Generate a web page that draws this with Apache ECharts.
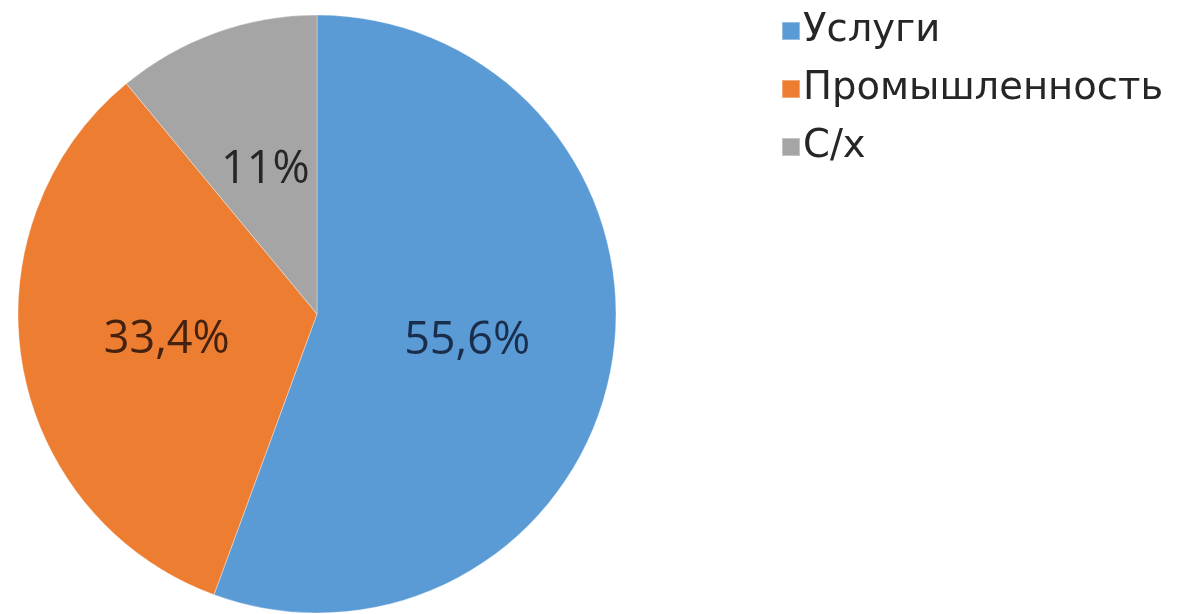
<!DOCTYPE html>
<html>
<head>
<meta charset="utf-8">
<script src="https://cdn.jsdelivr.net/npm/echarts@6/dist/echarts.min.js"></script>
<style>
  html, body { margin: 0; padding: 0; background: #fff; }
  #chart { width: 1178px; height: 614px; }
</style>
</head>
<body>
<div id="chart"></div>
<script>
  // доли секторов экономики, %
  const categories = ['Услуги', 'Промышленность', 'С/х']
  const values = [55.6, 33.4, 11]
  const colors = ['#5b9bd5', '#ed7d31', '#a5a5a5']
  const labelColors = ['#1a2e4c', '#44220f', '#262626']

  const chart = echarts.init(document.getElementById('chart'))

  chart.setOption({
    animation: false,
    legend: {
      orient: 'vertical',
      left: 781,
      top: 11,
      padding: 0,
      icon: 'rect',
      itemWidth: 18,
      itemHeight: 18,
      itemGap: 18,
      textStyle: {
        fontFamily: 'DejaVu Sans',
        fontSize: 38.5,
        lineHeight: 40,
        color: '#262626',
        padding: [0, 0, 0, -2]
      },
      data: categories
    },
    series: [
      {
        type: 'pie',
        center: [317, 314],
        radius: 299,
        startAngle: 90,
        clockwise: true,
        silent: true,
        itemStyle: {
          borderColor: 'rgba(255,255,255,0.35)',
          borderWidth: 1
        },
        label: {
          show: true,
          position: 'inner',
          fontFamily: 'Open Sans',
          fontSize: 45,
          padding: [10, 0, 0, 0],
          formatter: p => String(p.value).replace('.', ',') + '%'
        },
        labelLine: { show: false },
        data: categories.map((name, i) => ({
          name,
          value: values[i],
          itemStyle: { color: colors[i] },
          label: { color: labelColors[i] }
        }))
      }
    ]
  })
</script>
</body>
</html>
